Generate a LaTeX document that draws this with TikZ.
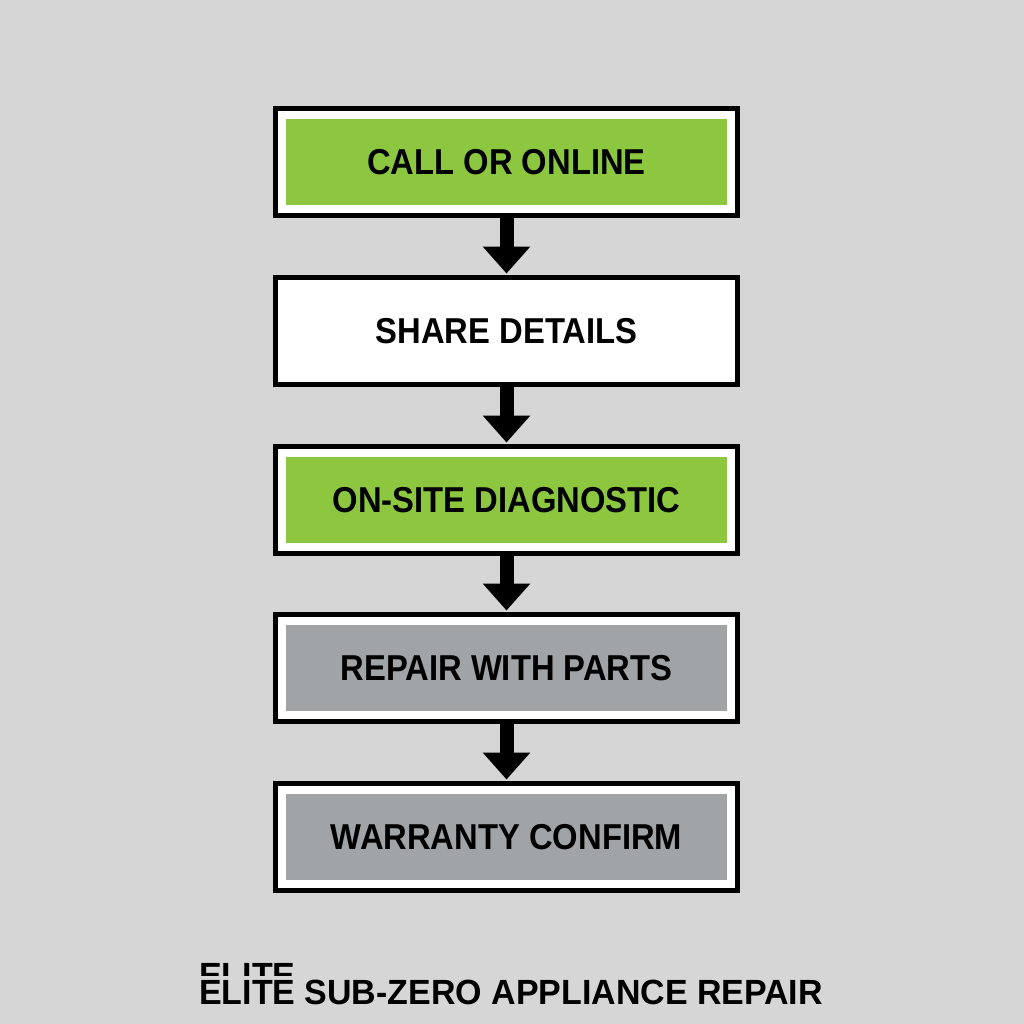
\documentclass[tikz,border=0pt]{standalone}
\usepackage{fontspec}
\setmainfont{Liberation Sans}
\usetikzlibrary{arrows.meta}
\definecolor{bg}{HTML}{D6D6D6}
\definecolor{stepgreen}{HTML}{8DC73F}
\definecolor{stepgray}{HTML}{A0A4A6}
\newcommand{\steplab}[1]{\raisebox{-3pt}{\scalebox{0.91}[1]{\bfseries #1}}}
\tikzset{
  stepbox/.style={draw=black, line width=5pt, fill=white, rectangle,
    minimum width=462pt, minimum height=107pt, inner sep=0pt,
    font=\fontsize{36}{40}\selectfont,
    path picture={\fill[#1] ([shift={(10.5pt,-10.5pt)}]path picture bounding box.north west)
      rectangle ([shift={(-10.5pt,10.5pt)}]path picture bounding box.south east);}},
  flow/.style={line width=14pt, -{Triangle[width=46pt,length=27pt]}}
}
\begin{document}
\begin{tikzpicture}[x=1pt,y=-1pt]
\fill[bg] (0,0) rectangle (1024,1024);
\useasboundingbox (0,0) rectangle (1024,1024);
\node[stepbox=stepgreen] (b1) at (506.5,162) {\steplab{CALL OR ONLINE}};
\node[stepbox=white] (b2) at (506.5,331) {\steplab{SHARE DETAILS}};
\node[stepbox=stepgreen] (b3) at (506.5,500) {\steplab{ON-SITE DIAGNOSTIC}};
\node[stepbox=stepgray] (b4) at (506.5,668) {\steplab{REPAIR WITH PARTS}};
\node[stepbox=stepgray] (b5) at (506.5,837) {\steplab{WARRANTY CONFIRM}};
\draw[flow] (b1.south) -- ([yshift=1.5pt]b2.north);
\draw[flow] (b2.south) -- ([yshift=1.5pt]b3.north);
\draw[flow] (b3.south) -- ([yshift=1.5pt]b4.north);
\draw[flow] (b4.south) -- ([yshift=1.5pt]b5.north);
\begin{scope}
\clip (190,950) rectangle (300,975);
\node[anchor=base west, inner sep=0pt, font=\fontsize{35}{40}\selectfont] (ghost) at (199,987) {\scalebox{0.97}[1]{\bfseries ELITE}};
\end{scope}
\node[anchor=base west, inner sep=0pt, font=\fontsize{35}{40}\selectfont] (brand) at (199,1004) {\scalebox{0.97}[1]{\bfseries ELITE SUB-ZERO APPLIANCE REPAIR}};
\end{tikzpicture}
\end{document}
